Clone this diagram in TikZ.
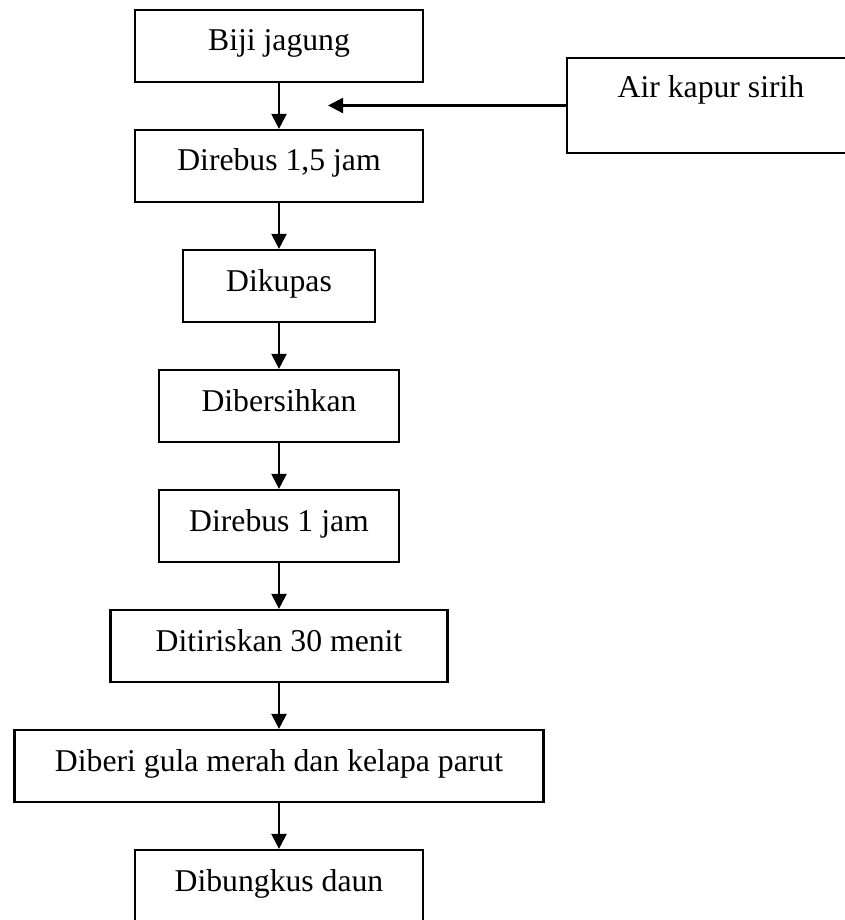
\documentclass[tikz,border=0pt]{standalone}
\usepackage{fontspec}
\setmainfont{Liberation Serif}
\usetikzlibrary{arrows.meta}

\tikzset{
  stepbox/.style={draw, line width=2.2pt, rectangle, inner sep=0pt,
    minimum height=72pt, text height=21pt, text depth=11pt,
    font=\fontsize{31.7}{38}\selectfont},
  flow/.style={line width=2.2pt, -{Triangle[length=15pt,width=15pt]}}
}

\begin{document}
\begin{tikzpicture}[x=1pt,y=-1pt]
  \clip (0,0) rectangle (845,920);
  \fill[white] (0,0) rectangle (845,920);

  % main process chain
  \node[stepbox, minimum width=288pt] (s1) at (279,46)  {Biji jagung};
  \node[stepbox, minimum width=288pt] (s2) at (279,166) {Direbus 1,5 jam};
  \node[stepbox, minimum width=192pt] (s3) at (279,286) {Dikupas};
  \node[stepbox, minimum width=240pt] (s4) at (279,406) {Dibersihkan};
  \node[stepbox, minimum width=240pt] (s5) at (279,526) {Direbus 1 jam};
  \node[stepbox, minimum width=337pt] (s6) at (279,646) {Ditiriskan 30 menit};
  \node[stepbox, minimum width=529pt] (s7) at (279,766) {Diberi gula merah dan kelapa parut};
  \node[stepbox, minimum width=288pt] (s8) at (279,886) {Dibungkus daun};

  % side input
  \node[stepbox, minimum width=288pt, minimum height=95pt, text depth=36pt] (air) at (711,105.5) {Air kapur sirih};
  \coordinate (inlet) at (328,105.5);

  \foreach \a/\b in {s1/s2, s2/s3, s3/s4, s4/s5, s5/s6, s6/s7, s7/s8}
    \draw[flow] (\a.south) -- (\b.north);
  \draw[flow] (air.west) -- (inlet);
\end{tikzpicture}
\end{document}
